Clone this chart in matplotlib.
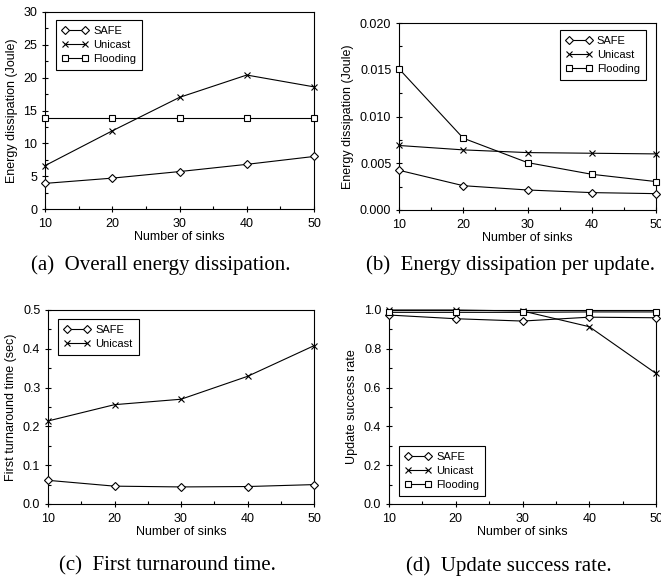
import matplotlib
matplotlib.use("Agg")
import matplotlib.pyplot as plt
from matplotlib.ticker import MultipleLocator, FormatStrFormatter

plt.rcParams["font.family"] = ["Liberation Sans", "DejaVu Sans"]

sinks = [10, 20, 30, 40, 50]

overall_safe = [3.9, 4.7, 5.7, 6.8, 8.0]
overall_unicast = [6.6, 11.9, 17.0, 20.4, 18.6]
overall_flooding = [13.9, 13.9, 13.9, 13.9, 13.9]

per_update_safe = [0.00425, 0.0026, 0.00214, 0.00186, 0.00175]
per_update_unicast = [0.0069, 0.00643, 0.00614, 0.00607, 0.0060]
per_update_flooding = [0.0151, 0.00768, 0.00507, 0.00382, 0.00304]

turnaround_safe = [0.061, 0.046, 0.044, 0.045, 0.050]
turnaround_unicast = [0.214, 0.256, 0.270, 0.329, 0.408]

success_safe = [0.974, 0.955, 0.943, 0.963, 0.960]
success_unicast = [1.0, 1.0, 0.995, 0.914, 0.673]
success_flooding = [0.988, 0.988, 0.988, 0.99, 0.99]

W, H = 661, 578
fig = plt.figure(figsize=(W / 100, H / 100), dpi=100)


def add_axes(left, top, right, bottom):
    return fig.add_axes([left / W, 1 - bottom / H, (right - left) / W, (bottom - top) / H])


markers = {"SAFE": ("D", 4.3), "Unicast": ("x", 4.5), "Flooding": ("s", 4.8)}


def draw(ax, series, ylim, ymajor, yminor, fmt, ylabel, legend_loc, legend_xy, caption, cap_x, cap_y):
    for name, vals in series:
        m, ms = markers[name]
        ax.plot(sinks, vals, marker=m, markersize=ms, label=name, color="black", lw=0.8,
                markerfacecolor="white", markeredgecolor="black", markeredgewidth=0.8,
                clip_on=False, zorder=3)
    ax.set_xlim(10, 50)
    ax.set_ylim(*ylim)
    ax.xaxis.set_major_locator(MultipleLocator(10))
    ax.xaxis.set_minor_locator(MultipleLocator(5))
    ax.yaxis.set_major_locator(MultipleLocator(ymajor))
    ax.yaxis.set_minor_locator(MultipleLocator(yminor))
    ax.yaxis.set_major_formatter(FormatStrFormatter(fmt))
    ax.tick_params(which="major", direction="inout", length=5, width=0.8, labelsize=9)
    ax.tick_params(axis="x", which="major", pad=4)
    ax.tick_params(axis="y", which="major", pad=3)
    ax.tick_params(which="minor", direction="in", length=2.5, width=0.8)
    for s in ax.spines.values():
        s.set_linewidth(0.8)
    ax.set_xlabel("Number of sinks", fontsize=9, labelpad=1)
    ax.set_ylabel(ylabel, fontsize=9, labelpad=4)
    leg = ax.legend(loc=legend_loc, bbox_to_anchor=(legend_xy[0] / W, 1 - legend_xy[1] / H),
                    bbox_transform=fig.transFigure, fontsize=8, numpoints=2, fancybox=False,
                    framealpha=1, edgecolor="black", handlelength=2.4, borderpad=0.55,
                    labelspacing=0.35, handletextpad=0.4, borderaxespad=0)
    leg.get_frame().set_linewidth(0.8)
    fig.text(cap_x / W, 1 - cap_y / H, caption, family=["Liberation Serif", "DejaVu Serif"],
             fontsize=15, ha="center", va="center")


ax_a = add_axes(45, 12, 314, 209)
draw(ax_a, [("SAFE", overall_safe), ("Unicast", overall_unicast), ("Flooding", overall_flooding)],
     (0, 30), 5, 2.5, "%d", "Energy dissipation (Joule)", "upper left", (56, 20),
     "(a)  Overall energy dissipation.", 161, 265)

ax_b = add_axes(399, 23, 656, 210)
draw(ax_b, [("SAFE", per_update_safe), ("Unicast", per_update_unicast), ("Flooding", per_update_flooding)],
     (0, 0.020), 0.005, 0.0025, "%.3f", "Energy dissipation (Joule)", "upper right", (646, 30),
     "(b)  Energy dissipation per update.", 510, 265)

ax_c = add_axes(48, 310, 314, 504)
draw(ax_c, [("SAFE", turnaround_safe), ("Unicast", turnaround_unicast)],
     (0, 0.5), 0.1, 0.05, "%.1f", "First turnaround time (sec)", "upper left", (58, 319),
     "(c)  First turnaround time.", 167, 566)

ax_d = add_axes(389, 310, 656, 504)
draw(ax_d, [("SAFE", success_safe), ("Unicast", success_unicast), ("Flooding", success_flooding)],
     (0, 1.0), 0.2, 0.1, "%.1f", "Update success rate", "lower left", (399, 496),
     "(d)  Update success rate.", 509, 566)

fig.savefig("out.png", dpi=100)
